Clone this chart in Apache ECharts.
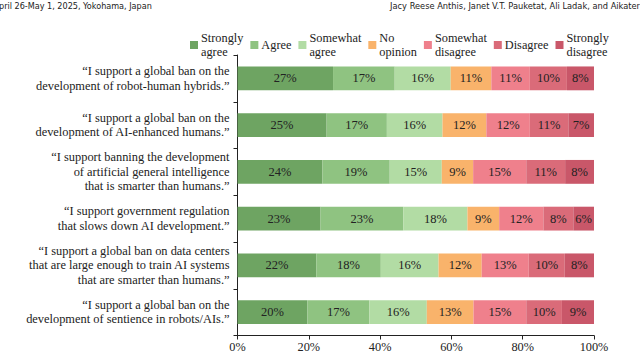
<!DOCTYPE html>
<html>
<head>
<meta charset="utf-8">
<script src="https://cdn.jsdelivr.net/npm/echarts@6/dist/echarts.min.js"></script>
<style>html,body{margin:0;padding:0;background:#fff}#c{width:640px;height:355px}</style>
</head>
<body>
<div id="c"></div>
<script>
var categories = [
  '\u201cI support a global ban on the\ndevelopment of robot-human hybrids.\u201d',
  '\u201cI support a global ban on the\ndevelopment of AI-enhanced humans.\u201d',
  '\u201cI support banning the development\nof artificial general intelligence\nthat is smarter than humans.\u201d',
  '\u201cI support government regulation\nthat slows down AI development.\u201d',
  '\u201cI support a global ban on data centers\nthat are large enough to train AI systems\nthat are smarter than humans.\u201d',
  '\u201cI support a global ban on the\ndevelopment of sentience in robots/AIs.\u201d'
];
var seriesNames = ['Strongly\nagree','Agree','Somewhat\nagree','No\nopinion','Somewhat\ndisagree','Disagree','Strongly\ndisagree'];
var stronglyAgree    = [26.8, 25.0, 23.8, 23.3, 22.1, 19.6];
var agree            = [17.3, 16.9, 18.9, 23.2, 18.1, 17.4];
var somewhatAgree    = [15.7, 15.6, 14.6, 18.0, 16.2, 16.1];
var noOpinion        = [11.4, 12.3, 8.8, 8.9, 12.1, 13.1];
var somewhatDisagree = [10.8, 12.2, 14.9, 12.4, 13.2, 14.8];
var disagree         = [10.4, 10.8, 10.9, 8.4, 10.1, 10.0];
var stronglyDisagree = [7.6, 7.2, 8.1, 5.8, 8.2, 9.0];
var xTicks = [0, 20, 40, 60, 80, 100];

var allValues = [stronglyAgree, agree, somewhatAgree, noOpinion, somewhatDisagree, disagree, stronglyDisagree];
var colors = ['#6ea462','#8fc381','#b2dca4','#f9b36b','#ef808c','#da6b79','#c95769'];
var serif = 'Liberation Serif, Times New Roman, DejaVu Serif, serif';

var chart = echarts.init(document.getElementById('c'), null, {renderer: 'svg'});
var series = allValues.map(function (vals, i) {
  return {
    name: seriesNames[i],
    type: 'bar',
    stack: 'total',
    barWidth: '51%',
    data: vals,
    itemStyle: {color: colors[i]},
    label: {
      show: true,
      position: 'inside',
      color: '#222',
      fontFamily: serif,
      fontSize: 12.5,
      formatter: function (p) { return Math.round(p.value) + '%'; }
    },
    emphasis: {disabled: true}
  };
});

chart.setOption({
  animation: false,
  color: colors,
  textStyle: {fontFamily: serif},
  graphic: [
    {type: 'text', left: -1, top: 1, style: {text: 'pril 26-May 1, 2025, Yokohama, Japan', fontFamily: 'DejaVu Sans Condensed, DejaVu Sans, sans-serif', fontSize: 9, fill: '#222'}},
    {type: 'text', right: 0, top: 1, style: {text: 'Jacy Reese Anthis, Janet V.T. Pauketat, Ali Ladak, and Aikater', fontFamily: 'DejaVu Sans Condensed, DejaVu Sans, sans-serif', fontSize: 9.2, fill: '#222'}}
  ],
  legend: {
    left: 185,
    top: 26,
    itemWidth: 8,
    itemHeight: 8,
    itemGap: 7,
    icon: 'rect',
    textStyle: {fontFamily: serif, fontSize: 12.3, color: '#222', lineHeight: 14, padding: [0,0,0,-2]},
    data: seriesNames
  },
  grid: {left: 237.5, right: 46, top: 55, bottom: 19.5, containLabel: false},
  xAxis: {
    type: 'value',
    min: 0,
    max: 100,
    interval: 20,
    axisLine: {show: true, lineStyle: {color: '#222'}},
    axisTick: {show: true, length: 4, lineStyle: {color: '#222'}},
    splitLine: {show: false},
    axisLabel: {fontFamily: serif, fontSize: 12.3, color: '#222', margin: 5, formatter: '{value}%'}
  },
  yAxis: {
    type: 'category',
    inverse: true,
    data: categories,
    axisLine: {show: true, lineStyle: {color: '#222'}},
    axisTick: {show: true, length: 4, lineStyle: {color: '#222'}},
    axisLabel: {fontFamily: serif, fontSize: 12.4, color: '#222', lineHeight: 14.5, margin: 8, align: 'right'}
  },
  series: series
});
</script>
</body>
</html>
